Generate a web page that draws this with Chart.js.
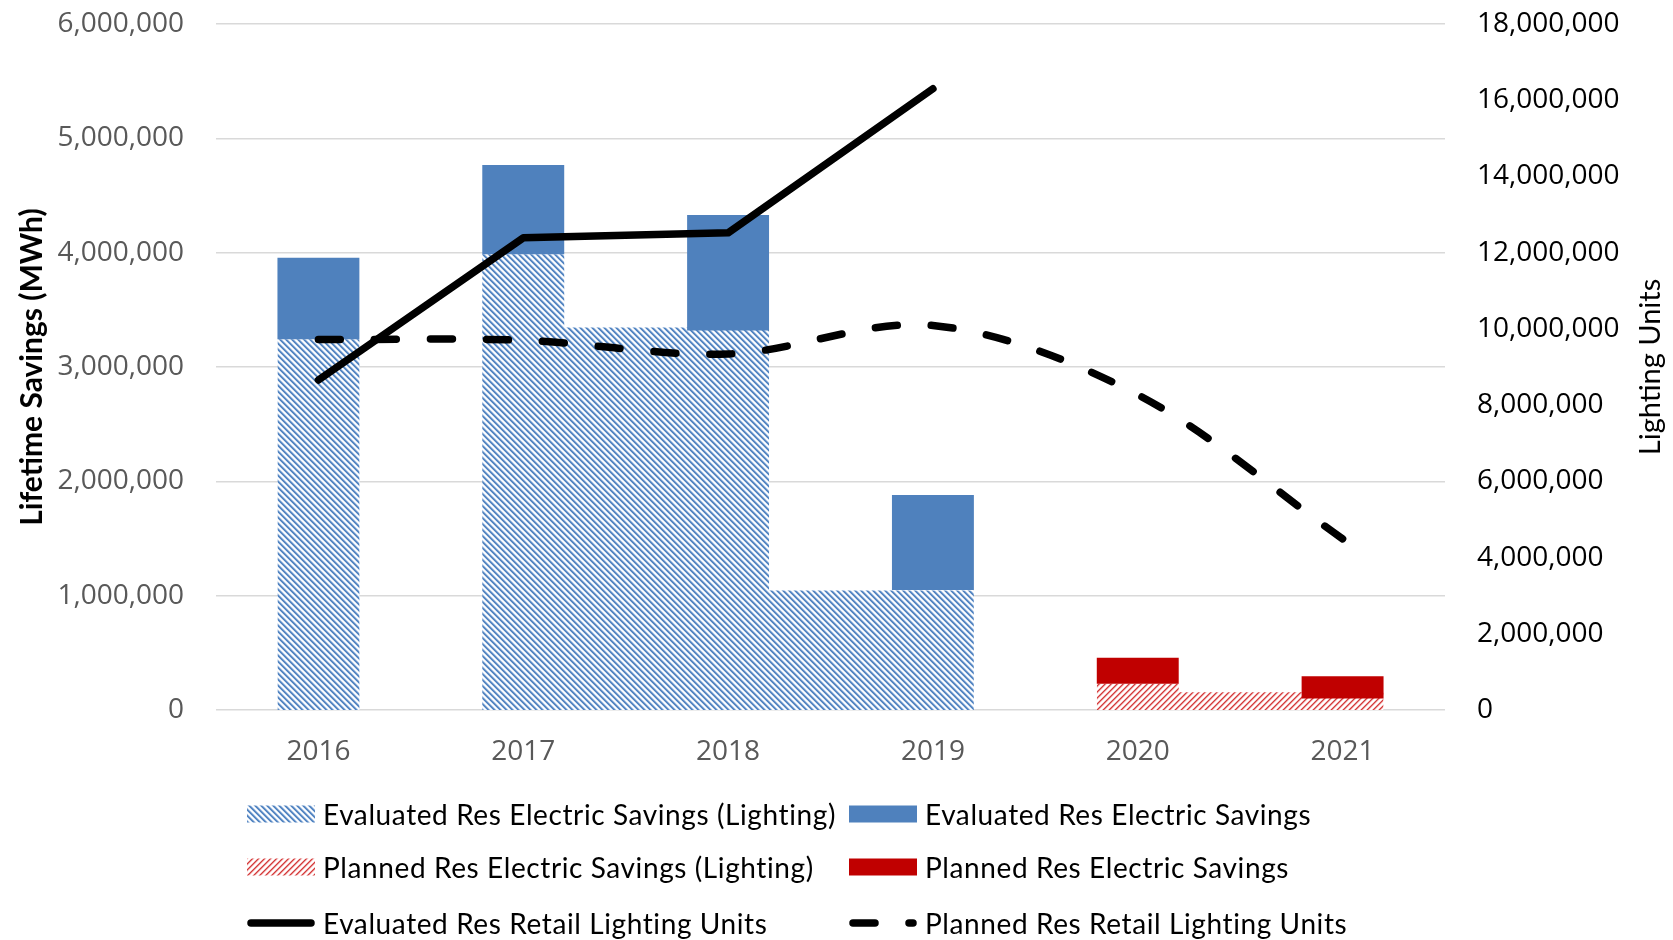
<!DOCTYPE html>
<html>
<head>
<meta charset="utf-8">
<script src="https://cdn.jsdelivr.net/npm/chart.js@4.4.1/dist/chart.umd.min.js"></script>
<style>
  body { margin: 0; background: #fff; }
  #wrap { position: relative; width: 1673px; height: 940px; }
  #chart { position: absolute; left: 0; top: 0; }
  .leg { position: absolute; display: flex; align-items: center; font-family: Lato, sans-serif; font-size: 28px; letter-spacing: 0.6px; color: #000; white-space: nowrap; }
  .leg canvas { margin-right: 8px; }
</style>
</head>
<body>
<div id="wrap">
  <canvas id="chart" width="1673" height="940"></canvas>
  <div id="legend"></div>
</div>
<script>
const years = ['2016', '2017', '2018', '2019', '2020', '2021'];

// Lifetime savings (MWh), left axis
const evalTotal = [3956000, 4766000, 4330000, 1880000, null, null];
const evalLighting = [3243000, 3986000, 3320000, 1050000, null, null];
const planTotal = [null, null, null, null, 457000, 295000];
const planLighting = [null, null, null, null, 230000, 100000];

// Lighting units, right axis
const evalUnits = [8660000, 12390000, 12520000, 16300000, null, null];
const planUnits = [9720000, 9700000, 9340000, 10090000, 8270000, 4490000];

// Hatched lighting savings are drawn as a stepped area (x in years)
const stepEdges = [2015.8, 2016.2, 2016.8, 2017.2, 2018.2, 2019.2, 2019.8, 2020.2, 2021.2];
const evalLightingStep = [3243000, 0, 3986000, 3346000, 1045000, 0, null, null, null];
const planLightingStep = [null, null, null, null, null, null, 230000, 155000, 0];

const BLUE = '#4F81BD';
const RED = '#C00000';

const fmt = v => Number(v).toLocaleString('en-US');

// 6x6 diagonal hatch tile; dir 1 = down-right stripes, -1 = up-right
function hatch(ctx, dir, shades) {
  const n = shades.length;
  const c = document.createElement('canvas');
  c.width = n; c.height = n;
  const g = c.getContext('2d');
  for (let y = 0; y < n; y++) {
    for (let x = 0; x < n; x++) {
      const k = dir > 0 ? (x - y + 2 * n) % n : (x + y) % n;
      g.fillStyle = shades[k];
      g.fillRect(x, y, 1, 1);
    }
  }
  return ctx.createPattern(c, 'repeat');
}

const ctx = document.getElementById('chart').getContext('2d');
const blueHatch = hatch(ctx, 1, [BLUE, '#5b8cc8', '#a9c1e0', '#f4f8fc', '#ffffff', '#c9d9ee']);
const redHatch = hatch(ctx, -1, ['#d23c3c', '#e98585', '#fbe3e3', '#ffffff', '#ffffff', '#f3c0c0']);

const toSteps = ys => stepEdges.map((x, i) => ({ x, y: ys[i] })).filter(p => p.y != null);

const rightTitle = {
  id: 'rightTitle',
  afterDraw(chart) {
    const { ctx, chartArea, scales } = chart;
    ctx.save();
    ctx.translate(scales.y2.right - 22, (chartArea.top + chartArea.bottom) / 2);
    ctx.rotate(-Math.PI / 2);
    ctx.font = '29px Lato';
    ctx.fillStyle = '#000';
    ctx.textAlign = 'center';
    ctx.textBaseline = 'middle';
    ctx.fillText('Lighting Units', 0, 0);
    ctx.restore();
  }
};

// tick labels are pushed away from the plot with invisible tick marks,
// so that ticks.padding does not add to the top margin
const hiddenTicks = { drawTicks: true, tickLength: 32, tickColor: 'rgba(0,0,0,0)' };

const chart = new Chart(ctx, {
  type: 'bar',
  data: {
    labels: years,
    datasets: [
      {
        type: 'line', label: 'Evaluated Res Electric Savings (Lighting)',
        data: toSteps(evalLightingStep), xAxisID: 'xs', yAxisID: 'y',
        stepped: true, fill: 'origin', backgroundColor: blueHatch,
        borderWidth: 0, pointRadius: 0, order: 2, legendKind: 'hatchBlue'
      },
      {
        label: 'Evaluated Res Electric Savings',
        data: years.map((_, i) => evalTotal[i] == null ? null : [evalLighting[i], evalTotal[i]]),
        backgroundColor: BLUE, grouped: false, barPercentage: 1, categoryPercentage: 0.4,
        yAxisID: 'y', order: 1, legendKind: 'solidBlue'
      },
      {
        type: 'line', label: 'Planned Res Electric Savings (Lighting)',
        data: toSteps(planLightingStep), xAxisID: 'xs', yAxisID: 'y',
        stepped: true, fill: 'origin', backgroundColor: redHatch,
        borderWidth: 0, pointRadius: 0, order: 2, legendKind: 'hatchRed'
      },
      {
        label: 'Planned Res Electric Savings',
        data: years.map((_, i) => planTotal[i] == null ? null : [planLighting[i], planTotal[i]]),
        backgroundColor: RED, grouped: false, barPercentage: 1, categoryPercentage: 0.4,
        yAxisID: 'y', order: 1, legendKind: 'solidRed'
      },
      {
        type: 'line', label: 'Evaluated Res Retail Lighting Units',
        data: evalUnits, yAxisID: 'y2', borderColor: '#000', borderWidth: 7.5,
        borderCapStyle: 'round', borderJoinStyle: 'round', pointRadius: 0,
        tension: 0, fill: false, order: 0, legendKind: 'line'
      },
      {
        type: 'line', label: 'Planned Res Retail Lighting Units',
        data: planUnits, yAxisID: 'y2', borderColor: '#000', borderWidth: 7.5,
        borderDash: [22, 34], borderCapStyle: 'round', borderJoinStyle: 'round',
        pointRadius: 0, tension: 0.33, fill: false, order: 0, legendKind: 'dash'
      }
    ]
  },
  options: {
    responsive: false,
    animation: false,
    devicePixelRatio: 1,
    layout: { padding: { top: 24, bottom: 170, left: 0, right: 0 } },
    plugins: { legend: { display: false }, tooltip: { enabled: false } },
    scales: {
      x: {
        grid: { display: false }, border: { display: false },
        ticks: { color: '#595959', font: { family: 'Open Sans', size: 28 }, padding: 17 },
        afterFit: s => { s.height = 60; }
      },
      xs: { type: 'linear', display: false, offset: false, min: 2015.5, max: 2021.5 },
      y: {
        position: 'left', min: 0, max: 6000000,
        grid: { color: '#D9D9D9', lineWidth: 1.5, ...hiddenTicks },
        border: { display: false },
        ticks: { stepSize: 1000000, color: '#595959', padding: 0,
                 font: { family: 'Open Sans', size: 28 }, callback: fmt },
        title: { display: true, text: 'Lifetime Savings (MWh)', color: '#000',
                 font: { family: 'Lato', size: 30, weight: 'bold' }, padding: { top: 14, bottom: 0 } },
        afterFit: s => { s.width = 216; }
      },
      y2: {
        position: 'right', min: 0, max: 18000000,
        grid: { drawOnChartArea: false, ...hiddenTicks }, border: { display: false },
        ticks: { stepSize: 2000000, color: '#000', padding: 0,
                 font: { family: 'Open Sans', size: 28 }, callback: fmt },
        afterFit: s => { s.width = 228; }
      }
    }
  },
  plugins: [rightTitle]
});

// HTML legend in two columns, three rows
const legendCols = [247, 849];
const legendRows = [814, 867, 923];

function marker(kind) {
  const c = document.createElement('canvas');
  c.width = 68; c.height = 20;
  const g = c.getContext('2d');
  if (kind === 'hatchBlue' || kind === 'hatchRed') {
    g.fillStyle = kind === 'hatchBlue' ? blueHatch : redHatch;
    g.fillRect(0, 1.5, 68, 17);
  } else if (kind === 'solidBlue' || kind === 'solidRed') {
    g.fillStyle = kind === 'solidBlue' ? BLUE : RED;
    g.fillRect(0, 1.5, 68, 17);
  } else {
    g.strokeStyle = '#000';
    g.lineWidth = 7.5;
    g.lineCap = 'round';
    if (kind === 'dash') g.setLineDash([22, 34]);
    g.beginPath();
    g.moveTo(4, 10);
    g.lineTo(64, 10);
    g.stroke();
  }
  return c;
}

const legendEl = document.getElementById('legend');
chart.data.datasets.forEach((ds, i) => {
  const item = document.createElement('div');
  item.className = 'leg';
  item.style.left = legendCols[i % 2] + 'px';
  item.style.top = (legendRows[Math.floor(i / 2)] - 16) + 'px';
  item.style.height = '32px';
  item.appendChild(marker(ds.legendKind));
  const span = document.createElement('span');
  span.textContent = ds.label;
  item.appendChild(span);
  legendEl.appendChild(item);
});
</script>
</body>
</html>
